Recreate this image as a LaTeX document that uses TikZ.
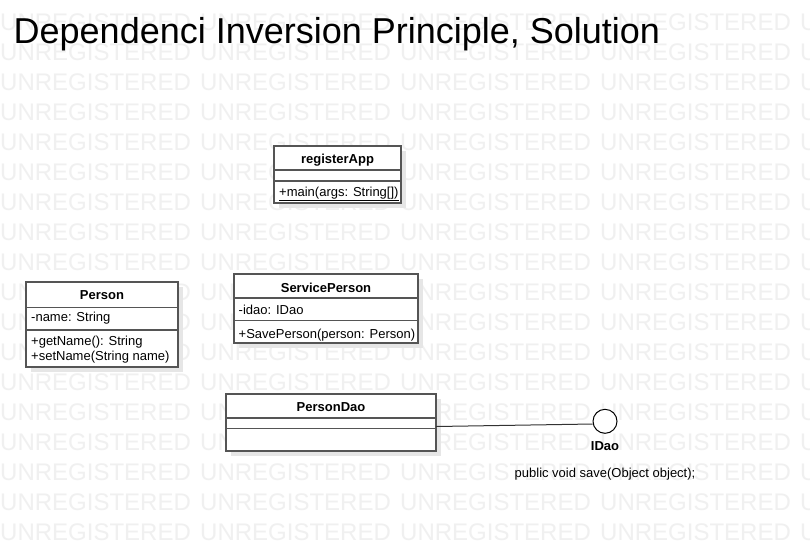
\documentclass[tikz,border=0pt]{standalone}
\usepackage{fontspec}
\setmainfont{Liberation Sans}
\definecolor{wm}{HTML}{F0F0F0}
\definecolor{bord}{HTML}{555555}
\definecolor{shd}{HTML}{E6E6E6}
\definecolor{ink}{HTML}{000000}
\tikzset{
  wmtext/.style={anchor=base west, inner sep=0pt, text=wm, font=\fontsize{24}{28}\selectfont},
  classbox/.style={draw=bord, line width=1.2pt, fill=white, rectangle, inner sep=0pt},
  shadowbox/.style={fill=shd, draw=none},
  divider/.style={draw=bord, line width=1.2pt},
  ctitle/.style={anchor=base, inner sep=0pt, text=ink, font=\fontsize{13}{15}\selectfont\bfseries},
  member/.style={anchor=base west, inner sep=0pt, text=ink, font=\fontsize{13}{15}\selectfont},
  iface/.style={circle, draw=ink, line width=1pt, fill=white, minimum size=24pt, inner sep=0pt},
  conn/.style={draw=ink!80, line width=1pt}
}
\begin{document}
\begin{tikzpicture}[x=1pt,y=-1pt]
\useasboundingbox (0,0) rectangle (810,550);
\clip (0,0) rectangle (810,550);
\fill[white] (0,0) rectangle (810,550);
% watermark
\foreach \r in {0,...,17} {
  \foreach \c in {0,...,4} {
    \node[wmtext] at (200*\c, 30+30*\r) {UNREGISTERED};
  }
}
% title
\node[anchor=base west, inner sep=0pt, font=\fontsize{36}{40}\selectfont] (title) at (13.5,43) {Dependenci Inversion Principle, Solution};

% shadows
\fill[shadowbox] (279,151) rectangle (406,208);
\fill[shadowbox] (239,279) rectangle (423,348);
\fill[shadowbox] (31,287) rectangle (183,372);
\fill[shadowbox] (231,399) rectangle (441,456);

% registerApp
\node[classbox, minimum width=127pt, minimum height=57pt] (reg) at (337.5,174.5) {};
\draw[divider] (reg.west |- 0,170) -- (reg.east |- 0,170);
\draw[divider] (reg.west |- 0,181) -- (reg.east |- 0,181);
\node[ctitle] (regt) at (337.5,163) {registerApp};
\node[member] (regm) at (279,196.5) {\underline{+main(args: String[])}};

% ServicePerson
\node[classbox, minimum width=184pt, minimum height=69pt] (sp) at (326,308.5) {};
\draw[divider] (sp.west |- 0,298) -- (sp.east |- 0,298);
\draw[divider] (sp.west |- 0,320.5) -- (sp.east |- 0,320.5);
\node[ctitle] (spt) at (326,292) {ServicePerson};
\node[member] (spa) at (238.5,314.5) {-idao: IDao};
\node[member] (spm) at (238.5,338) {+SavePerson(person: Person)};

% Person
\node[classbox, minimum width=152pt, minimum height=85pt] (person) at (102,324.5) {};
\draw[divider] (person.west |- 0,307.5) -- (person.east |- 0,307.5);
\draw[divider] (person.west |- 0,330) -- (person.east |- 0,330);
\node[ctitle] (pt) at (102,299) {Person};
\node[member] (pa) at (31,321.7) {-name: String};
\node[member] (pm1) at (31,345) {+getName(): String};
\node[member] (pm2) at (31,360) {+setName(String name)};

% PersonDao
\node[classbox, minimum width=210pt, minimum height=57pt] (dao) at (331,422.5) {};
\draw[divider] (dao.west |- 0,418) -- (dao.east |- 0,418);
\draw[divider] (dao.west |- 0,428.5) -- (dao.east |- 0,428.5);
\node[ctitle] (daot) at (331,411) {PersonDao};

% IDao interface
\node[iface] (idao) at (605,421.3) {};
\node[ctitle] (idaot) at (605,450) {IDao};
\node[member, anchor=base] (idaom) at (605,477) {public void save(Object object);};
\coordinate (daoport) at (436,426.5);
\draw[conn] (daoport) -- (idao.west |- 0,424);
\end{tikzpicture}
\end{document}
